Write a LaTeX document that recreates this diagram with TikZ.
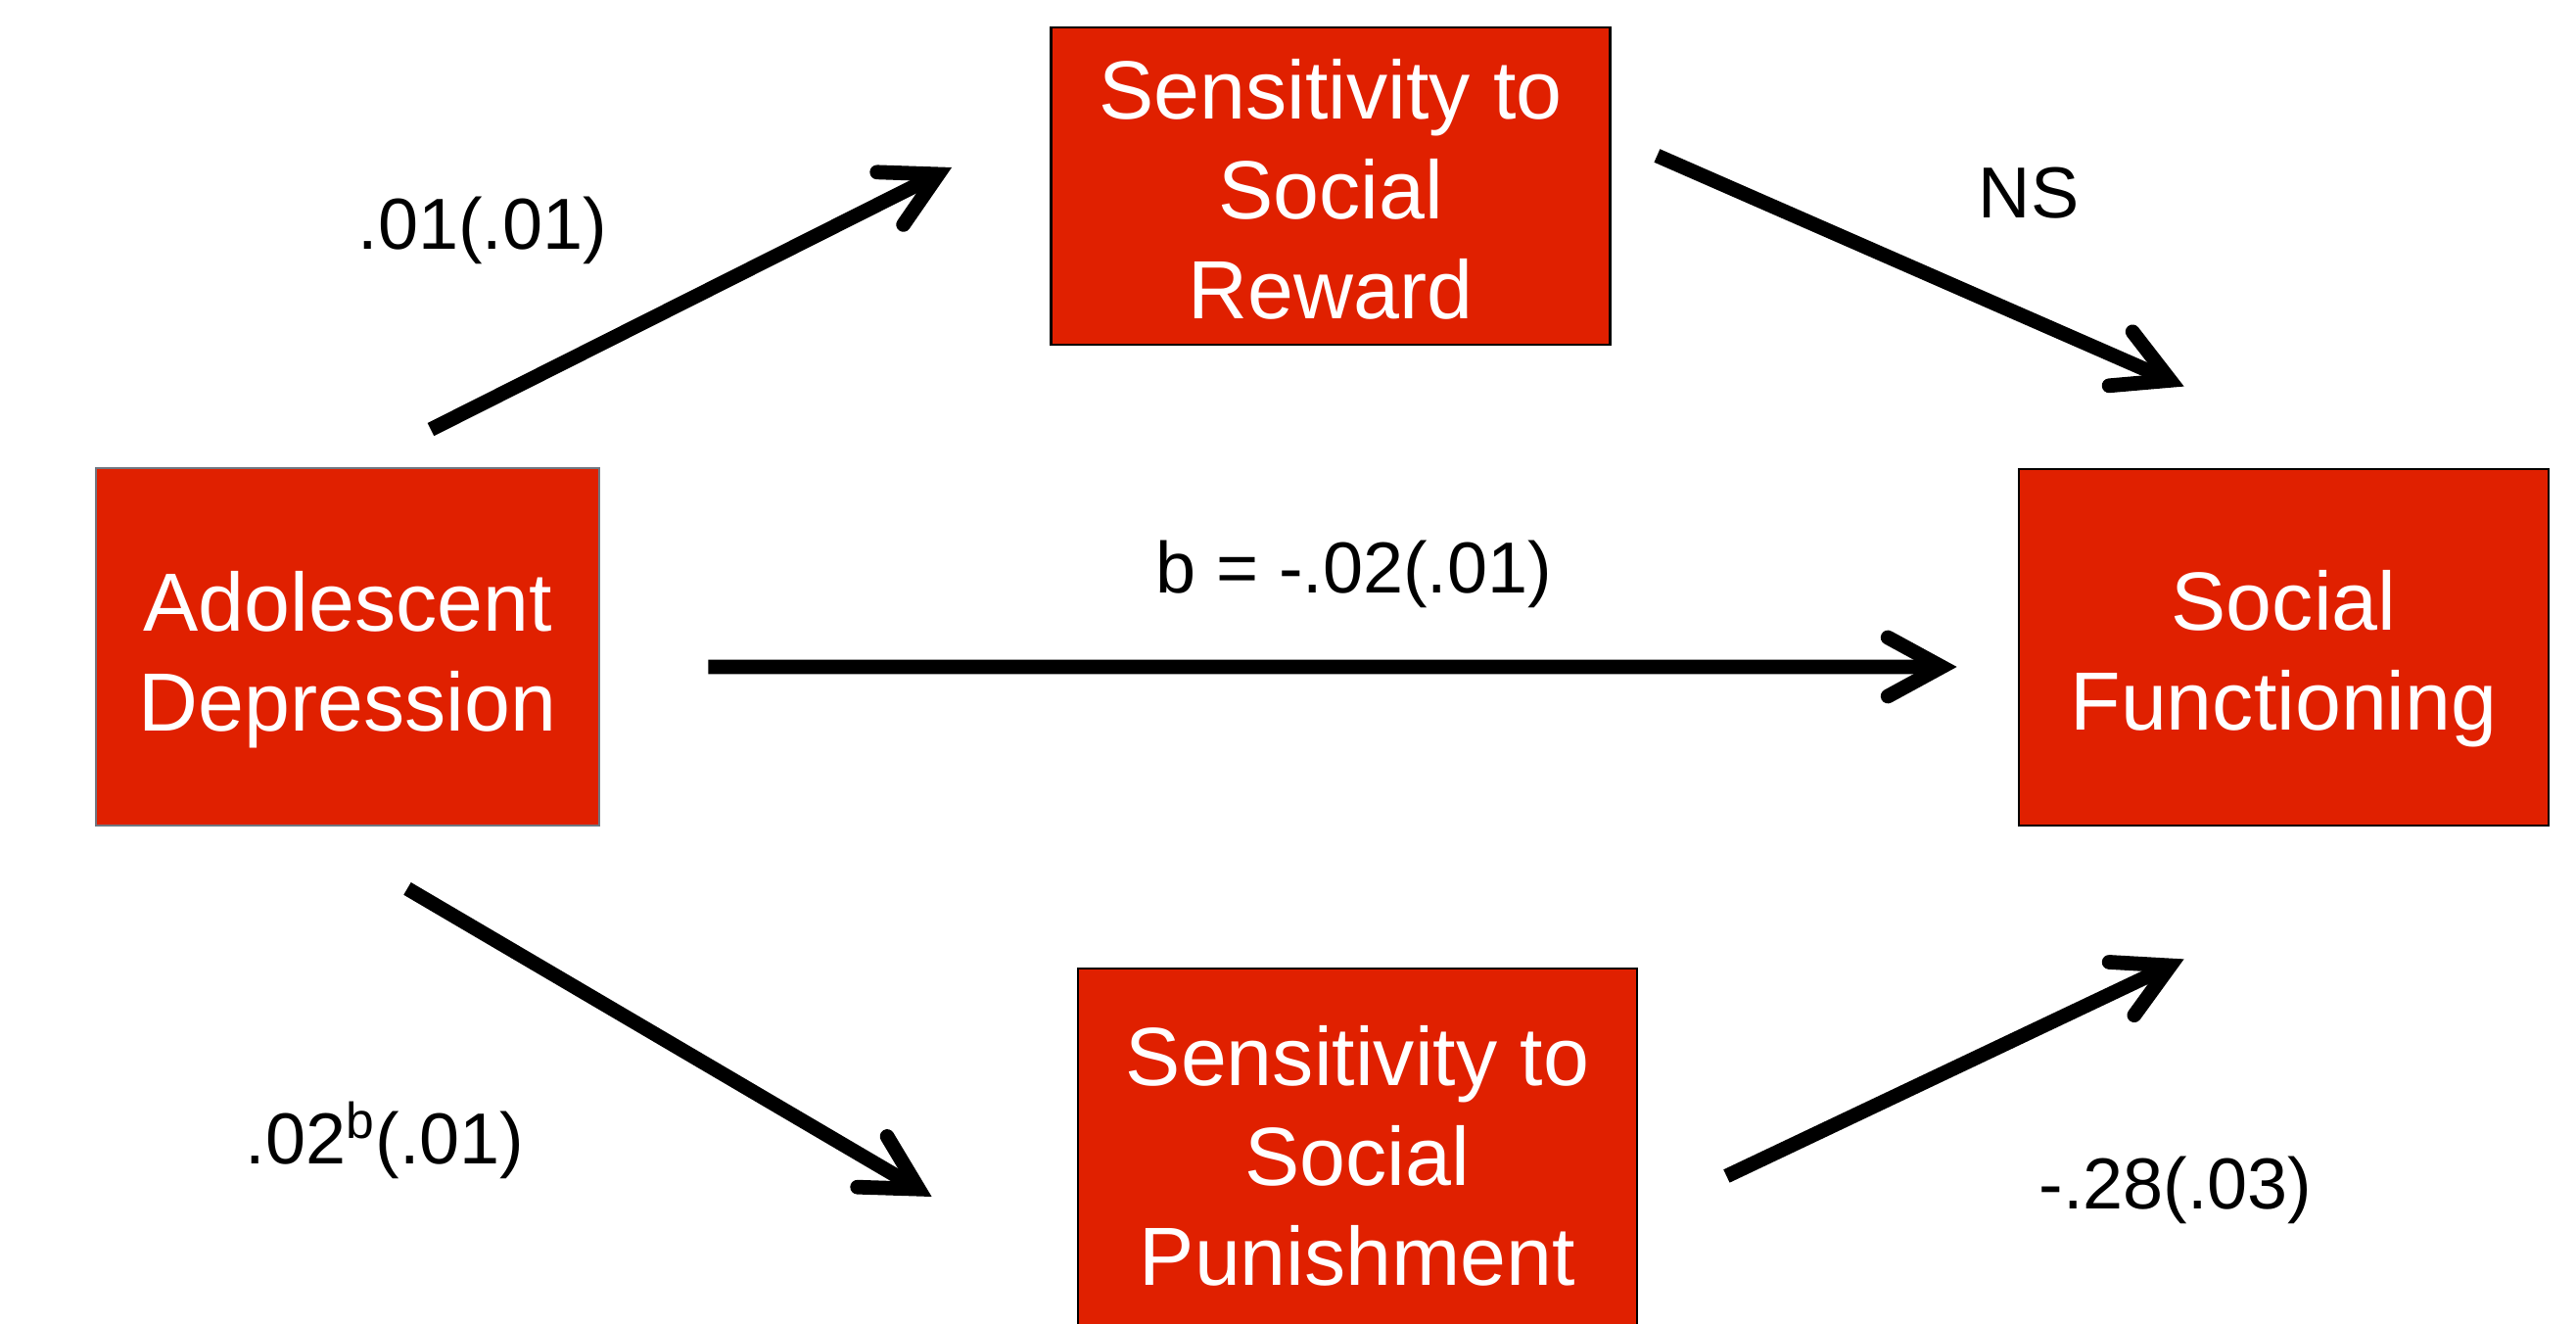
\documentclass[tikz,border=0pt]{standalone}
\usepackage{fontspec}
\setmainfont{Liberation Sans}
\usetikzlibrary{arrows.meta}
\definecolor{boxred}{RGB}{224,32,0}
\definecolor{boxgray}{RGB}{112,118,128}

\begin{document}
\begin{tikzpicture}[
    var/.style={draw=black, line width=0.8pt, fill=boxred, inner sep=0pt},
    vartext/.style={text=white, align=center, inner sep=0pt, font=\fontsize{24}{29}\selectfont},
    effect/.style={line width=4.2pt, -{Straight Barb[length=5.5mm, width=6mm, line cap=round, line join=miter]}},
    est/.style={anchor=base, font=\fontsize{21}{25}\selectfont}
]
    \useasboundingbox (0,0) rectangle (26.31,13.52);
    \clip (0,0) rectangle (26.31,13.52);
    % Boxes
    \node[var, draw=boxgray, minimum width=5.14cm, minimum height=3.65cm] (adol) at (3.55,6.915) {};
    \node[var, minimum width=5.71cm, minimum height=3.24cm] (rew) at (13.59,11.62) {};
    \node[var, minimum width=5.71cm, minimum height=3.76cm] (pun) at (13.865,1.75) {};
    \node[var, minimum width=5.41cm, minimum height=3.64cm] (func) at (23.325,6.91) {};
    % Box texts
    \node[vartext] (adol-t) at ([yshift=-0.13cm]adol.center) {Adolescent\\Depression};
    \node[vartext] (rew-t) at ([yshift=-0.035cm]rew.center) {Sensitivity to\\Social\\Reward};
    \node[vartext] (pun-t) at ([yshift=-0.035cm]pun.center) {Sensitivity to\\Social\\Punishment};
    \node[vartext] (func-t) at ([yshift=-0.12cm]func.center) {Social\\Functioning};
    % Paths
    \draw[effect] ([shift={(0.85,0.38)}]adol.north) -- ([shift={(-1.0,0.19)}]rew.west);
    \draw[effect] ([shift={(0.465,0.31)}]rew.east) -- ([shift={(1.70,0.83)}]func.north west);
    \draw[effect] ([shift={(1.10,-0.205)}]adol.east) -- ([shift={(-0.62,-0.20)}]func.west);
    \draw[effect] ([shift={(0.61,-0.63)}]adol.south) -- ([shift={(-1.48,-0.45)}]pun.west);
    \draw[effect] ([shift={(0.90,-0.24)}]pun.east) -- ([shift={(1.70,-1.35)}]func.south west);
    % Estimates
    \node[est] (a1) at (4.93,10.97) {.01(.01)};
    \node[est] (b1) at (20.72,11.29) {NS};
    \node[est] (c) at (13.83,7.46) {b = -.02(.01)};
    \node[est] (a2) at (3.93,1.63) {.02\textsuperscript{b}(.01)};
    \node[est] (b2) at (22.22,1.17) {-.28(.03)};
\end{tikzpicture}
\end{document}
